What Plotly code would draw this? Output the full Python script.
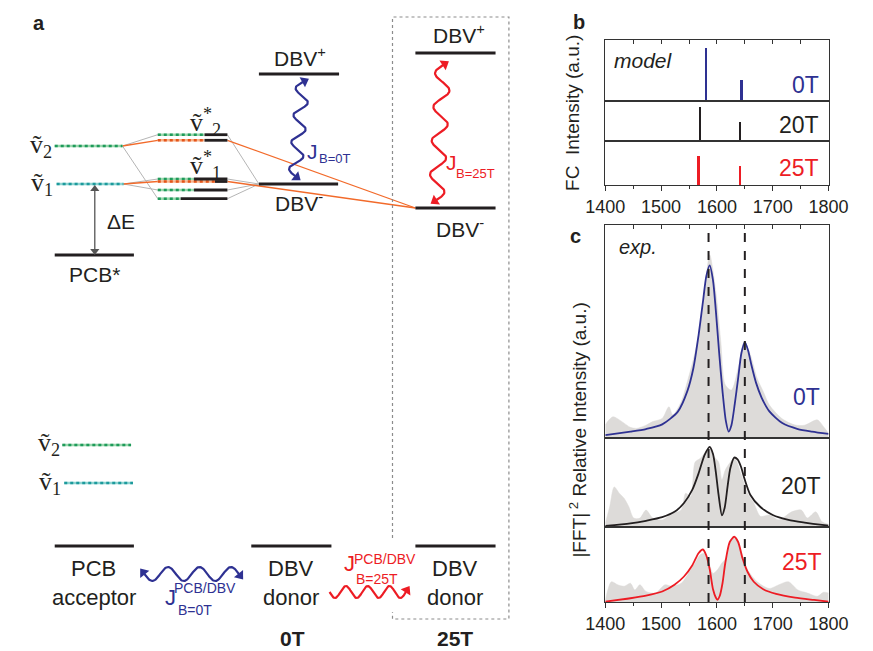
import numpy as np
import plotly.graph_objects as go

W, H = 873, 651
OFF = 8  # page body margin that offsets the figure in the browser
SANS = "Liberation Sans, Arial, sans-serif"
SERIF = "Liberation Serif, DejaVu Serif, serif"
BLUE = "#2e3192"
BLACK = "#231f20"
RED = "#ed1c24"
ORANGE = "#f26a2a"
GREY_FILL = "#dddbd9"

# ---------------- Panel b: Franck-Condon stick spectra ----------------
fc_pos_0T = [1581, 1644]
fc_int_0T = [0.87, 0.34]
fc_pos_20T = [1570, 1642]
fc_int_20T = [0.85, 0.47]
fc_pos_25T = [1568, 1642]
fc_int_25T = [0.66, 0.43]

# ---------------- Panel c: experimental |FFT|^2 spectra + fits ----------------
exp_x_0T = [1400, 1405, 1414, 1428, 1445, 1456, 1473, 1485, 1502, 1514, 1521, 1536, 1547, 1561,
            1575, 1587, 1598, 1607, 1615, 1626, 1638, 1649, 1660, 1672, 1683, 1694, 1717, 1740,
            1757, 1780, 1791, 1800]
exp_y_0T = [0.061, 0.08, 0.10, 0.08, 0.05, 0.045, 0.06, 0.077, 0.092, 0.147, 0.108, 0.17, 0.264,
            0.405, 0.609, 0.86, 0.687, 0.45, 0.25, 0.225, 0.327, 0.45, 0.39, 0.28, 0.218, 0.155,
            0.09, 0.061, 0.06, 0.085, 0.053, 0.022]
fit_x_0T = [1400, 1445, 1473, 1502, 1530, 1547, 1558, 1567, 1575, 1581, 1587, 1593, 1598, 1604,
            1610, 1616, 1621, 1626, 1632, 1638, 1644, 1650, 1656, 1662, 1670, 1680, 1694, 1717,
            1745, 1770, 1800]
fit_y_0T = [0.014, 0.03, 0.042, 0.064, 0.124, 0.22, 0.33, 0.48, 0.64, 0.76, 0.81, 0.74, 0.60,
            0.40, 0.22, 0.08, 0.03, 0.06, 0.16, 0.28, 0.40, 0.45, 0.41, 0.34, 0.26, 0.19, 0.125,
            0.07, 0.042, 0.03, 0.019]

exp_x_20T = [1400, 1408, 1416, 1425, 1434, 1442, 1451, 1462, 1473, 1485, 1502, 1519, 1536, 1544,
             1553, 1561, 1570, 1578, 1587, 1595, 1603, 1609, 1615, 1623, 1632, 1643, 1655, 1666,
             1678, 1694, 1711, 1734, 1751, 1762, 1777, 1788, 1800]
exp_y_20T = [0.04, 0.23, 0.45, 0.38, 0.32, 0.23, 0.10, 0.10, 0.19, 0.10, 0.08, 0.15, 0.19, 0.38,
             0.34, 0.73, 0.77, 0.83, 0.88, 0.79, 0.73, 0.53, 0.64, 0.72, 0.77, 0.60, 0.38, 0.27,
             0.12, 0.135, 0.08, 0.17, 0.19, 0.10, 0.17, 0.06, 0.03]
fit_x_20T = [1400, 1445, 1473, 1502, 1524, 1541, 1556, 1567, 1578, 1587, 1593, 1598, 1603, 1609,
             1614, 1619, 1624, 1631, 1637, 1643, 1650, 1660, 1677, 1700, 1728, 1757, 1800]
fit_y_20T = [0.011, 0.04, 0.07, 0.11, 0.17, 0.27, 0.42, 0.60, 0.81, 0.90, 0.82, 0.62, 0.36, 0.13,
             0.22, 0.45, 0.66, 0.78, 0.76, 0.68, 0.53, 0.36, 0.23, 0.135, 0.08, 0.05, 0.015]

exp_x_25T = [1400, 1411, 1422, 1434, 1445, 1453, 1462, 1473, 1490, 1507, 1519, 1536, 1553, 1561,
             1570, 1578, 1587, 1593, 1601, 1609, 1618, 1626, 1635, 1643, 1655, 1672, 1694, 1711,
             1728, 1745, 1762, 1780, 1791, 1800]
exp_y_25T = [0.02, 0.27, 0.23, 0.21, 0.25, 0.16, 0.23, 0.14, 0.12, 0.23, 0.21, 0.25, 0.43, 0.52,
             0.63, 0.65, 0.49, 0.38, 0.43, 0.52, 0.60, 0.83, 0.85, 0.69, 0.43, 0.27, 0.18, 0.23,
             0.27, 0.16, 0.12, 0.076, 0.13, 0.12]
fit_x_25T = [1400, 1445, 1473, 1502, 1524, 1541, 1556, 1567, 1575, 1581, 1587, 1593, 1598, 1601,
             1605, 1610, 1615, 1623, 1631, 1638, 1646, 1655, 1666, 1683, 1706, 1740, 1774, 1800]
fit_y_25T = [0.005, 0.05, 0.085, 0.14, 0.23, 0.34, 0.49, 0.65, 0.70, 0.62, 0.44, 0.17, 0.06, 0.03,
             0.08, 0.25, 0.52, 0.80, 0.87, 0.80, 0.58, 0.40, 0.27, 0.17, 0.107, 0.058, 0.027, 0.005]

mode_lines = [1585, 1650]          # dashed reference frequencies (cm-1)
x_ticks = [1400, 1500, 1600, 1700, 1800]

# ---------------- Panel a: energy-level diagram (diagram units) ----------------
solid_x0 = [36, 36, 250, 250, 414, 414, 242, 414, 193, 193, 182, 204, 182, 168]
solid_x1 = [119, 119, 334, 333, 498, 498, 326, 498, 217, 217, 217, 217, 217, 217]
solid_y = [255, 546, 74, 184, 53, 208, 546, 546, 134.7, 140.3, 179, 181.5, 190, 198.7]

green_x0 = [36, 144, 144, 144, 144, 44]
green_x1 = [107, 193, 182, 182, 168, 116]
green_y = [146, 134.7, 179, 190, 198.7, 445]
teal_x0 = [38, 46]
teal_x1 = [108, 118]
teal_y = [184, 483]
orange_x0 = [144, 144]
orange_x1 = [193, 204]
orange_y = [140.3, 181.5]

grey_conn_x0 = [107, 107, 108, 108, 217, 217, 217, 217]
grey_conn_y0 = [146, 146, 184, 184, 134.7, 198.7, 179, 190]
grey_conn_x1 = [144, 144, 144, 144, 250, 250, 250, 250]
grey_conn_y1 = [134.7, 198.7, 179, 190, 184, 184, 184, 184]
orange_conn_x0 = [107, 108, 217, 217]
orange_conn_y0 = [146, 184, 140.3, 181.5]
orange_conn_x1 = [144, 144, 414, 414]
orange_conn_y1 = [140.3, 181.5, 208, 208]

box_x = [390, 390, 512, 512, 390, 390]
box_y = [538, 17, 17, 619, 619, 612]

fig = go.Figure()


def seg_trace(x0s, x1s, ys, color, width, dash=None):
    xs, yy = [], []
    for a, b, y in zip(x0s, x1s, ys):
        xs += [a, b, None]
        yy += [y, y, None]
    return go.Scatter(x=xs, y=yy, mode="lines", xaxis="x", yaxis="y",
                      line=dict(color=color, width=width, dash=dash),
                      hoverinfo="skip", showlegend=False)


def conn_trace(x0s, y0s, x1s, y1s, color, width):
    xs, yy = [], []
    for a, b, c, d in zip(x0s, y0s, x1s, y1s):
        xs += [a, c, None]
        yy += [b, d, None]
    return go.Scatter(x=xs, y=yy, mode="lines", xaxis="x", yaxis="y",
                      line=dict(color=color, width=width),
                      hoverinfo="skip", showlegend=False)


annotations = []


def txt(text, x, y, size, color=BLACK, family=SANS, xanchor="center", angle=0):
    annotations.append(dict(text=text, x=x, y=y, xref="x", yref="y", showarrow=False,
                            font=dict(size=size, color=color, family=family),
                            xanchor=xanchor, yanchor="middle", textangle=angle))


def head(ex, ey, tx, ty, color, size=10):
    ang = float(np.degrees(np.arctan2(tx, -ty)))
    fig.add_trace(go.Scatter(x=[ex], y=[ey], mode="markers", xaxis="x", yaxis="y",
                             marker=dict(symbol="triangle-up", size=size, color=color,
                                         angle=ang, line=dict(width=0)),
                             hoverinfo="skip", showlegend=False))


def wavy(p0, p1, n_waves, amp, color, heads=(True, True)):
    x0, y0 = p0
    x1, y1 = p1
    dx, dy = x1 - x0, y1 - y0
    L = np.hypot(dx, dy)
    nx, ny = -dy / L, dx / L
    t = np.linspace(0, 1, 160)
    s = amp * np.sin(2 * np.pi * n_waves * t)
    xs = x0 + dx * t + nx * s
    ys = y0 + dy * t + ny * s
    fig.add_trace(go.Scatter(x=xs, y=ys, mode="lines", xaxis="x", yaxis="y",
                             line=dict(color=color, width=2.2), hoverinfo="skip",
                             showlegend=False))
    for use, i, j in [(heads[0], 0, 4), (heads[1], -1, -5)]:
        if not use:
            continue
        ex, ey = xs[i], ys[i]
        tx, ty = ex - xs[j], ey - ys[j]
        n = np.hypot(tx, ty)
        tx, ty = tx / n, ty / n
        head(ex + tx * 2, ey + ty * 2, tx, ty, color)


# connection lines
fig.add_trace(conn_trace(grey_conn_x0, grey_conn_y0, grey_conn_x1, grey_conn_y1, "#b5b5b5", 1.0))
fig.add_trace(conn_trace(orange_conn_x0, orange_conn_y0, orange_conn_x1, orange_conn_y1, ORANGE, 1.3))
# vibrational (dotted) levels
fig.add_trace(seg_trace(green_x0, green_x1, green_y, "#9bd8ae", 2.6))
fig.add_trace(seg_trace(green_x0, green_x1, green_y, "#1f9a5a", 2.6, "dot"))
fig.add_trace(seg_trace(teal_x0, teal_x1, teal_y, "#8fd5d2", 2.6))
fig.add_trace(seg_trace(teal_x0, teal_x1, teal_y, "#1d9a9c", 2.6, "dot"))
fig.add_trace(seg_trace(orange_x0, orange_x1, orange_y, "#f8b48c", 2.6))
fig.add_trace(seg_trace(orange_x0, orange_x1, orange_y, "#e4551a", 2.6, "dot"))
# electronic levels
fig.add_trace(seg_trace(solid_x0, solid_x1, solid_y, BLACK, 2.8))
# 25T dotted box
fig.add_trace(go.Scatter(x=box_x, y=box_y, mode="lines", xaxis="x", yaxis="y",
                         line=dict(color="#8c8c8c", width=1.2, dash="dot"),
                         hoverinfo="skip", showlegend=False))
# Delta E double arrow
fig.add_trace(go.Scatter(x=[78, 78], y=[190, 250], mode="lines", xaxis="x", yaxis="y",
                         line=dict(color="#555555", width=1.3), hoverinfo="skip",
                         showlegend=False))
head(78, 189, 0, -1, "#555555", 8)
head(78, 251, 0, 1, "#555555", 8)

# wavy coupling arrows
wavy((296, 82), (288, 176), 3.5, 7, BLUE)
wavy((443, 65), (436, 200), 4, 8, RED)
wavy((130, 574), (229, 574), 3, 7, BLUE)
wavy((324, 592), (404, 592), 3.5, 6, RED, heads=(False, True))

# ---------------- Panel b traces ----------------
for pos, inten, col, ax in [(fc_pos_0T, fc_int_0T, BLUE, "2"), (fc_pos_20T, fc_int_20T, BLACK, "3"),
                            (fc_pos_25T, fc_int_25T, RED, "4")]:
    fig.add_trace(go.Bar(x=pos, y=inten, width=5, marker=dict(color=col, line=dict(width=0)),
                         xaxis="x" + ax, yaxis="y" + ax, hoverinfo="skip", showlegend=False))

# ---------------- Panel c traces ----------------
for ex, ey, fx, fy, col, ax in [(exp_x_0T, exp_y_0T, fit_x_0T, fit_y_0T, BLUE, "5"),
                                (exp_x_20T, exp_y_20T, fit_x_20T, fit_y_20T, BLACK, "6"),
                                (exp_x_25T, exp_y_25T, fit_x_25T, fit_y_25T, RED, "7")]:
    fig.add_trace(go.Scatter(x=ex, y=ey, mode="lines", fill="tozeroy", fillcolor=GREY_FILL,
                             line=dict(color=GREY_FILL, width=0.5, shape="spline", smoothing=0.8),
                             xaxis="x" + ax, yaxis="y" + ax, hoverinfo="skip", showlegend=False))
    fig.add_trace(go.Scatter(x=fx, y=fy, mode="lines",
                             line=dict(color=col, width=1.8, shape="spline", smoothing=0.7),
                             xaxis="x" + ax, yaxis="y" + ax, hoverinfo="skip", showlegend=False))

# invisible traces for the top tick overlay axes
fig.add_trace(go.Scatter(x=[1400], y=[0], xaxis="x8", yaxis="y2", mode="markers",
                         marker=dict(opacity=0), hoverinfo="skip", showlegend=False))
fig.add_trace(go.Scatter(x=[1400], y=[0], xaxis="x9", yaxis="y5", mode="markers",
                         marker=dict(opacity=0), hoverinfo="skip", showlegend=False))


def py2paper(py):
    return 1 - (py - OFF) / H


def px2paper(px):
    return (px - OFF) / W


# dashed reference lines across panel c
shapes = []
for v in mode_lines:
    shapes.append(dict(type="line", xref="x5", yref="paper", x0=v, x1=v,
                       y0=py2paper(602), y1=py2paper(225),
                       line=dict(color=BLACK, width=2, dash="dash")))

# ---------------- text ----------------
txt("<b>a</b>", 19, 23, 20)
txt("<b>b</b>", 585, 22, 20)
txt("<b>c</b>", 582, 236, 20)

# vibrational mode labels (v with tilde)
txt("ṽ<sub>2</sub>", 8, 146, 26, family=SERIF, xanchor="left")
txt("ṽ<sub>1</sub>", 9, 184, 26, family=SERIF, xanchor="left")
txt("ṽ<sub>2</sub>", 16, 444, 26, family=SERIF, xanchor="left")
txt("ṽ<sub>1</sub>", 17, 483, 26, family=SERIF, xanchor="left")
txt("ṽ<sup>*</sup><sub>2</sub>", 176, 122, 26, family=SERIF, xanchor="left")
txt("ṽ<sup>*</sup><sub>1</sub>", 176, 165, 26, family=SERIF, xanchor="left")

txt("ΔE", 105, 221, 21)
txt("PCB*", 78, 274, 21)
txt("DBV<sup>+</sup>", 293, 57, 21)
txt("DBV<sup>-</sup>", 292, 202, 21)
txt("DBV<sup>+</sup>", 460, 34, 21)
txt("DBV<sup>-</sup>", 461, 228, 21)
txt("J", 306, 151, 21, BLUE)
txt("B=0T", 329, 158, 13, BLUE)
txt("J", 452, 162, 21, RED)
txt("B=25T", 477, 173, 13, RED)
txt("PCB", 77, 568, 22)
txt("acceptor", 77, 597, 22)
txt("DBV", 284, 568, 22)
txt("donor", 284, 597, 22)
txt("DBV", 456, 568, 22)
txt("donor", 456, 597, 22)
txt("<b>0T</b>", 285, 638, 21)
txt("<b>25T</b>", 456, 638, 21)
txt("J", 157, 597, 22, BLUE)
txt("PCB/DBV", 193, 588, 14, BLUE)
txt("B=0T", 183, 610, 14, BLUE)
txt("J", 345, 563, 22, RED)
txt("PCB/DBV", 382, 559, 14, RED)
txt("B=25T", 374, 579, 14, RED)
# panel b / c labels
txt("<i>model</i>", 620, 60, 21, xanchor="left")
txt("0T", 839, 85, 23, BLUE, xanchor="right")
txt("20T", 839, 125, 23, BLACK, xanchor="right")
txt("25T", 839, 168, 23, RED, xanchor="right")
txt("<i>exp.</i>", 625, 247, 20, xanchor="left")
txt("0T", 840, 397, 23, BLUE, xanchor="right")
txt("20T", 841, 486, 23, BLACK, xanchor="right")
txt("25T", 842, 562, 23, RED, xanchor="right")
txt("FC  Intensity (a.u.)", 578, 113, 19, angle=-90)
txt("|FFT|<sup> 2</sup> Relative Intensity (a.u.)", 584, 430, 19, angle=-90)

# ---------------- layout ----------------
XD = [px2paper(613), px2paper(847)]


def ydom(top, bot):
    return [py2paper(bot), py2paper(top)]


row_axes = {
    "2": ydom(40, 101), "3": ydom(101, 141), "4": ydom(141, 185),
    "5": ydom(225, 438), "6": ydom(438, 527), "7": ydom(527, 602),
}

layout = dict(
    width=W, height=H, autosize=False,
    margin=dict(l=0, r=0, t=0, b=0, pad=0),
    paper_bgcolor="white", plot_bgcolor="rgba(0,0,0,0)",
    showlegend=False, bargap=0,
    xaxis=dict(domain=[0, 1], range=[OFF, W + OFF], visible=False, fixedrange=True),
    yaxis=dict(domain=[0, 1], range=[H + OFF, OFF], visible=False, fixedrange=True),
    annotations=annotations, shapes=shapes,
    font=dict(family=SANS, color=BLACK),
)

for k, dom in row_axes.items():
    bottom = k in ("4", "7")
    xa = dict(domain=XD, anchor="y" + k, range=[1400, 1800], showline=True, mirror=True,
              linecolor="#333333", linewidth=1.2, showgrid=False, zeroline=False,
              fixedrange=True, showticklabels=bottom)
    if bottom:
        xa.update(ticks="outside", ticklen=5, tickwidth=1.2, tickcolor="#333333",
                  tickvals=x_ticks, tickfont=dict(size=18, family=SANS, color=BLACK),
                  minor=dict(dtick=50, tick0=1400, ticks="outside", ticklen=3,
                             tickwidth=1.2, tickcolor="#333333"))
    else:
        xa.update(ticks="")
    layout["xaxis" + k] = xa
    layout["yaxis" + k] = dict(domain=dom, anchor="x" + k, range=[0, 1], showline=True,
                               mirror=True, linecolor="#333333", linewidth=1.2,
                               showgrid=False, zeroline=False, ticks="",
                               showticklabels=False, fixedrange=True)

for k, base in [("8", "2"), ("9", "5")]:
    layout["xaxis" + k] = dict(overlaying="x" + base, anchor="y" + base, side="top",
                               range=[1400, 1800], ticks="inside", dtick=50, tick0=1400,
                               ticklen=4, tickwidth=1.2, tickcolor="#333333",
                               showticklabels=False, showline=False, showgrid=False,
                               zeroline=False, fixedrange=True)

fig.update_layout(**layout)
fig.write_html("out.html")
